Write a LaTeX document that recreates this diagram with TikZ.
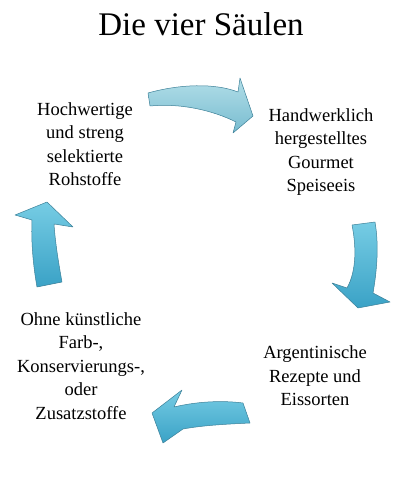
\documentclass[tikz,border=0pt]{standalone}
\usepackage{fontspec}
\setmainfont{Liberation Serif}

\definecolor{paleblue}{RGB}{178,222,232}
\definecolor{palebluedark}{RGB}{120,188,208}
\definecolor{seablue}{RGB}{118,204,228}
\definecolor{seabluedark}{RGB}{58,162,198}
\definecolor{edgeblue}{RGB}{60,128,152}

\begin{document}
\begin{tikzpicture}[x=1pt,y=-1pt,
  pillar/.style={align=center,font=\fontsize{18.5}{23.5}\selectfont,inner sep=0pt},
  blockarrow/.style={draw=edgeblue,line width=0.5pt,line join=round,
    top color=seablue,bottom color=seabluedark},
  paleblockarrow/.style={blockarrow,top color=paleblue,bottom color=palebluedark}]

\useasboundingbox (0,0) rectangle (415,481);

%% title
\node[font=\fontsize{33}{36}\selectfont] (title) at (201,24) {Die vier Säulen};

%% the four pillars
\node[pillar] (rohstoffe) at (85,144) {Hochwertige\\und streng\\selektierte\\Rohstoffe};
\node[pillar] (handwerk) at (321,152) {Handwerklich\\hergestelltes\\Gourmet\\Speiseeis};
\node[pillar] (rezepte) at (315,376) {Argentinische\\Rezepte und\\Eissorten};
\node[pillar] (zusatz) at (81,366) {Ohne künstliche\\Farb-,\\Konservierungs-,\\oder\\Zusatzstoffe};

%% top arrow
\draw[paleblockarrow] (148,93) .. controls (180,84) and (215,83) .. (238,92)
  -- (240,78) -- (253,116) -- (233,133) -- (236,122)
  .. controls (212,110) and (180,103) .. (150,106) -- cycle;

%% right arrow
\draw[blockarrow] (352,225) -- (375,222)
  .. controls (379,245) and (377,270) .. (373,293)
  -- (390,302) -- (358,308) -- (332,283) -- (347,288)
  .. controls (357,270) and (356,245) .. cycle;

%% bottom arrow
\draw[blockarrow] (250,423) -- (243,403)
  .. controls (220,400) and (195,402) .. (174,407)
  -- (182,390) -- (152,413) -- (163,443) -- (183,429)
  .. controls (205,425) and (230,424) .. cycle;

%% left arrow
\draw[blockarrow] (37,287) -- (62,282)
  .. controls (58,260) and (55,240) .. (54,224)
  -- (73,227) -- (47,202) -- (15,215) -- (32,220)
  .. controls (31,240) and (33,265) .. cycle;

\end{tikzpicture}
\end{document}
